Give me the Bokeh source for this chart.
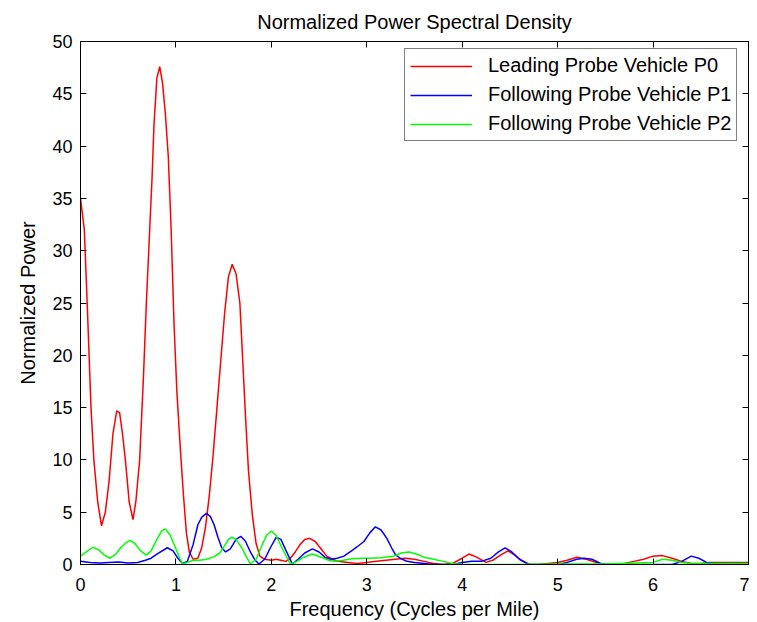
from bokeh.plotting import figure
from bokeh.models import LinearAxis, Range1d, Legend, LegendItem, FixedTicker
from bokeh.embed import file_html
from bokeh.resources import INLINE

# ---- data ----
p0_x = [0.00, 0.04, 0.07, 0.09, 0.11, 0.14, 0.18, 0.22, 0.26, 0.30, 0.34, 0.38, 0.41, 0.44, 0.47, 0.51,
        0.55, 0.58, 0.62, 0.66, 0.69, 0.72, 0.75, 0.77, 0.80, 0.83, 0.86, 0.89, 0.92, 0.95, 0.98, 1.01,
        1.05, 1.08, 1.11, 1.14, 1.18, 1.23, 1.27, 1.31, 1.35, 1.39, 1.43, 1.47, 1.51, 1.55, 1.59, 1.63,
        1.67, 1.70, 1.73, 1.76, 1.80, 1.84, 1.88, 1.93, 2.00, 2.05, 2.10, 2.15, 2.20, 2.25, 2.30, 2.35,
        2.40, 2.46, 2.52, 2.58, 2.64, 2.70, 2.80, 2.90,
        3.00, 3.10, 3.20, 3.30, 3.40, 3.50, 3.60, 3.70, 3.80, 3.90, 4.00, 4.07, 4.15, 4.25, 4.32, 4.40,
        4.48, 4.55, 4.62, 4.70, 4.80, 4.90, 5.00, 5.10, 5.20, 5.30, 5.40, 5.50, 5.60, 5.70, 5.80, 5.90,
        6.00, 6.10, 6.20, 6.30, 6.40, 6.50, 6.60, 6.80, 7.00]
p0_y = [35.0, 32.0, 25.0, 20.0, 15.0, 10.0, 6.0, 3.7, 5.0, 8.0, 12.5, 14.7, 14.5, 12.5, 10.0, 6.0,
        4.3, 6.0, 10.0, 18.0, 25.0, 31.0, 37.0, 42.0, 46.5, 47.6, 46.0, 43.0, 39.0, 32.0, 23.0, 16.5,
        10.5, 6.5, 3.0, 1.2, 0.5, 0.6, 1.6, 3.6, 6.6, 10.5, 15.0, 19.5, 24.0, 27.5, 28.7, 27.8,
        25.0, 19.5, 14.0, 9.0, 4.8, 2.0, 0.8, 0.5, 0.4, 0.5, 0.4, 0.3, 0.6, 1.2, 1.9, 2.4,
        2.5, 2.2, 1.5, 0.8, 0.5, 0.3, 0.2, 0.1,
        0.2, 0.3, 0.4, 0.5, 0.6, 0.5, 0.3, 0.1, 0.0, 0.1, 0.6, 1.0, 0.7, 0.2, 0.4, 0.9,
        1.3, 0.9, 0.4, 0.0, 0.0, 0.1, 0.2, 0.4, 0.7, 0.5, 0.2, 0.0, 0.0, 0.1, 0.3, 0.5,
        0.8, 0.85, 0.6, 0.3, 0.1, 0.1, 0.2, 0.2, 0.2]

p1_x = [0.00, 0.10, 0.20, 0.30, 0.40, 0.50, 0.60, 0.68, 0.74, 0.80, 0.91, 0.97, 1.02, 1.07, 1.12, 1.18,
        1.23, 1.27, 1.32, 1.36, 1.40, 1.44, 1.48, 1.52, 1.57, 1.63, 1.68, 1.73, 1.78, 1.83, 1.87, 1.93,
        1.99, 2.05, 2.10, 2.15, 2.22, 2.28, 2.35, 2.43, 2.50, 2.56, 2.62, 2.69, 2.76, 2.84, 2.90, 2.97,
        3.03, 3.09, 3.15, 3.21, 3.26, 3.30, 3.35, 3.42, 3.50, 3.60, 3.70, 3.80, 3.90, 4.00, 4.10, 4.20,
        4.30, 4.38, 4.45, 4.52, 4.60, 4.70, 4.80, 5.00, 5.10, 5.20, 5.28, 5.36, 5.45, 5.55, 6.00, 6.20,
        6.30, 6.40, 6.48, 6.56, 6.65, 7.00]
p1_y = [0.3, 0.2, 0.15, 0.2, 0.25, 0.15, 0.2, 0.4, 0.6, 1.0, 1.6, 1.3, 0.6, 0.1, 0.3, 1.9,
        3.8, 4.5, 4.9, 4.6, 3.8, 2.6, 1.6, 1.2, 1.5, 2.4, 2.7, 2.2, 1.2, 0.4, 0.05, 0.5,
        1.6, 2.6, 2.4, 1.4, 0.05, 0.5, 1.1, 1.5, 1.2, 0.7, 0.5, 0.6, 0.8, 1.3, 1.7, 2.2,
        3.0, 3.6, 3.3, 2.5, 1.6, 0.95, 0.6, 0.3, 0.2, 0.1, 0.0, 0.0, 0.0, 0.2, 0.3, 0.3,
        0.6, 1.2, 1.6, 1.2, 0.5, 0.0, 0.0, 0.0, 0.2, 0.5, 0.6, 0.5, 0.1, 0.0, 0.0, 0.0,
        0.3, 0.8, 0.6, 0.2, 0.1, 0.1]

p2_x = [0.00, 0.06, 0.13, 0.19, 0.25, 0.31, 0.37, 0.43, 0.48, 0.52, 0.57, 0.63, 0.69, 0.74, 0.80, 0.85,
        0.89, 0.94, 1.00, 1.04, 1.07, 1.12, 1.18, 1.25, 1.32, 1.40, 1.46, 1.51, 1.55, 1.58, 1.63, 1.69,
        1.74, 1.78, 1.84, 1.90, 1.95, 2.00, 2.05, 2.11, 2.20, 2.27, 2.34, 2.43, 2.52, 2.60, 2.66, 2.75,
        2.85, 2.95, 3.05, 3.15, 3.28, 3.36, 3.44, 3.52, 3.60, 3.70, 3.80, 3.90, 4.00, 4.50, 5.00, 5.50,
        6.00, 6.10, 6.20, 6.30, 6.40, 7.00]
p2_y = [0.8, 1.2, 1.65, 1.4, 0.9, 0.6, 1.0, 1.7, 2.1, 2.3, 2.0, 1.3, 0.9, 1.3, 2.4, 3.2,
        3.4, 2.8, 1.5, 0.6, 0.05, 0.2, 0.4, 0.4, 0.5, 0.75, 1.1, 1.8, 2.4, 2.6, 2.4, 1.6,
        0.7, 0.05, 0.5, 1.8, 2.8, 3.2, 2.8, 1.6, 0.05, 0.3, 0.7, 1.0, 0.7, 0.4, 0.3, 0.4,
        0.55, 0.6, 0.6, 0.65, 0.8, 1.1, 1.2, 1.0, 0.7, 0.5, 0.3, 0.1, 0.0, 0.0, 0.05, 0.05,
        0.2, 0.5, 0.4, 0.2, 0.1, 0.1]

series_names = ["Leading Probe Vehicle P0", "Following Probe Vehicle P1", "Following Probe Vehicle P2"]
series_colors = ["#ff0000", "#0000ff", "#00ff00"]
x_ticks = [0, 1, 2, 3, 4, 5, 6, 7]
y_ticks = [0, 5, 10, 15, 20, 25, 30, 35, 40, 45, 50]

FONT = "Liberation Sans"

p = figure(width=749, height=622, output_backend="svg", toolbar_location=None,
           x_range=Range1d(0, 7), y_range=Range1d(0, 50),
           min_border_left=80, min_border_right=1, min_border_top=39, min_border_bottom=50,
           title="Normalized Power Spectral Density")
p.background_fill_color = "white"
p.border_fill_color = "white"
p.outline_line_color = "black"
p.outline_line_width = 1
p.grid.grid_line_color = None

p.title.align = "center"
p.title.text_font = FONT
p.title.text_font_size = "20px"
p.title.text_font_style = "normal"
p.title.text_color = "#000000"
p.title.standoff = 17

def style_axis(ax, ticks, labels=True):
    ax.ticker = FixedTicker(ticks=ticks)
    ax.axis_line_color = "black"
    ax.major_tick_line_color = "black"
    ax.major_tick_in = 6
    ax.major_tick_out = 0
    ax.minor_tick_line_color = None
    if labels:
        ax.major_label_text_font = FONT
        ax.major_label_text_font_size = "18px"
        ax.major_label_text_color = "#000000"
        ax.axis_label_text_font = FONT
        ax.axis_label_text_font_size = "20px"
        ax.axis_label_text_font_style = "normal"
        ax.axis_label_text_color = "#000000"
    else:
        ax.major_label_overrides = {t: "" for t in ticks}
        ax.major_label_text_font_size = "1px"
        ax.major_label_standoff = 0

p.xaxis.axis_label = "Frequency (Cycles per Mile)"
p.yaxis.axis_label = "Normalized Power"
style_axis(p.xaxis[0], x_ticks)
style_axis(p.yaxis[0], y_ticks)
p.xaxis.major_label_standoff = 13
p.xaxis.axis_label_standoff = 4
p.yaxis.major_label_standoff = 8
p.yaxis.axis_label_standoff = 10

top_ax = LinearAxis()
right_ax = LinearAxis()
style_axis(top_ax, x_ticks, labels=False)
style_axis(right_ax, y_ticks, labels=False)
p.add_layout(top_ax, "above")
p.add_layout(right_ax, "right")

xs = [p0_x, p1_x, p2_x]
ys = [p0_y, p1_y, p2_y]
items = []
for xv, yv, name, col in zip(xs, ys, series_names, series_colors):
    r = p.line(xv, yv, line_color=col, line_width=1.5)
    items.append(LegendItem(label=name, renderers=[r]))

legend = Legend(items=items, location=(324, 423), margin=0,
                padding=5, spacing=6, glyph_width=62, glyph_height=18, label_height=18,
                label_standoff=16, label_text_font=FONT, label_text_font_size="20px",
                label_text_color="#000000", border_line_color="black", border_line_width=1,
                background_fill_color="white", background_fill_alpha=1.0)
p.add_layout(legend, "center")

open("out.html", "w").write(file_html(p, INLINE))
